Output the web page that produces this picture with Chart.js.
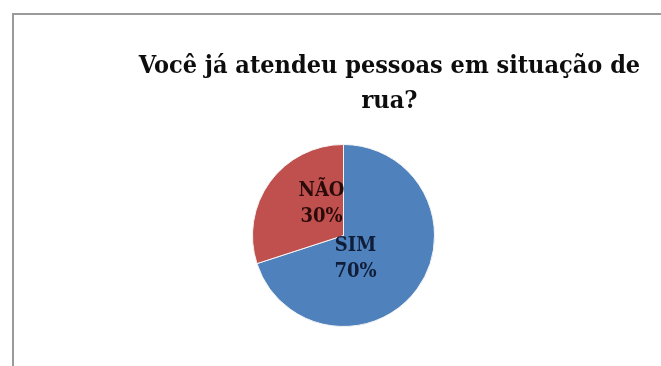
<!DOCTYPE html>
<html>
<head>
<meta charset="utf-8">
<script src="https://cdn.jsdelivr.net/npm/chart.js@4/dist/chart.umd.min.js"></script>
<style>
    html, body { margin: 0; padding: 0; background: #fff; overflow: hidden; }
    body { width: 661px; height: 366px; position: relative; }
    #frame {
        position: absolute; left: 12px; top: 13px;
        width: 760px; height: 400px;
        border-left: 2px solid #9a9a9a; border-top: 2px solid #9a9a9a;
        box-sizing: border-box;
    }
    #wrap { position: absolute; left: 14px; top: 15px; width: 751px; height: 351px; }
</style>
</head>
<body>
<div id="frame"></div>
<div id="wrap"><canvas id="chart"></canvas></div>
<script>
// chart data
const titleLines = ["Você já atendeu pessoas em situação de", "rua?"];
const categories = ["SIM", "NÃO"];
const values = [70, 30];
const sliceColors = ["#4f81bd", "#c0504d"];
const labelColors = ["#0f1d38", "#2a0a0a"];

const fontFamily = "'DejaVu Serif Condensed', 'DejaVu Serif', serif";

// label block placement relative to the pie centre, in px
const labelNudge = [[12, 23], [-22, -32]];

// the title is centred on the full frame, the pie sits a bit left of it
const shiftPie = {
    id: "shiftPie",
    afterLayout(chart) {
        const dx = -46;
        chart.chartArea.left += dx;
        chart.chartArea.right += dx;
    },
};

// "CATEGORY NN%" labels drawn on the slices
const sliceLabels = {
    id: "sliceLabels",
    afterDatasetsDraw(chart) {
        const ctx = chart.ctx;
        const meta = chart.getDatasetMeta(0);
        const total = values.reduce((a, b) => a + b, 0);
        ctx.save();
        ctx.font = "bold 20px " + fontFamily;
        ctx.textAlign = "center";
        ctx.textBaseline = "middle";
        meta.data.forEach((arc, i) => {
            const x = arc.x + labelNudge[i][0];
            const y = arc.y + labelNudge[i][1];
            ctx.fillStyle = labelColors[i];
            ctx.fillText(categories[i], x, y - 13);
            ctx.fillText(Math.round(values[i] / total * 100) + "%", x, y + 13);
        });
        ctx.restore();
    },
};

new Chart(document.getElementById("chart"), {
    type: "pie",
    data: {
        labels: categories,
        datasets: [{
            data: values,
            backgroundColor: sliceColors,
            borderColor: "#f4f4f4",
            borderWidth: 1,
        }],
    },
    options: {
        responsive: true,
        maintainAspectRatio: false,
        animation: false,
        layout: { padding: { top: 0, bottom: 39, left: 0, right: 0 } },
        plugins: {
            legend: { display: false },
            tooltip: { enabled: false },
            title: {
                display: true,
                text: titleLines,
                color: "#0d0d0d",
                font: { family: fontFamily, size: 25, weight: "bold", lineHeight: 1.4 },
                padding: { top: 34, bottom: 25 },
            },
        },
    },
    plugins: [shiftPie, sliceLabels],
});
</script>
</body>
</html>
